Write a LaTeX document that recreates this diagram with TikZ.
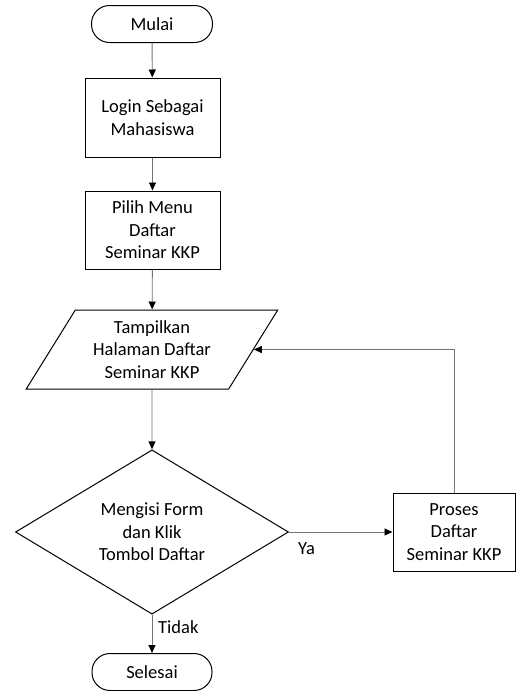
\documentclass[tikz,border=0pt]{standalone}
\usepackage{fontspec}
\setmainfont{Carlito}
\usetikzlibrary{shapes.geometric,arrows.meta}
\begin{document}
\begin{tikzpicture}[x=1pt,y=-1pt,
  every node/.style={font=\fontsize{18.5}{22.5}\selectfont},
  box/.style={draw=black,line width=1pt,align=center,inner sep=0pt},
  term/.style={box,rounded corners=18pt},
  conn/.style={draw=black!55,line width=0.9pt,-{Triangle[length=8pt,width=7pt,color=black,fill=black]}},
  plainconn/.style={draw=black!55,line width=0.9pt}]
\useasboundingbox (0,0) rectangle (517,691);
\node[term,minimum width=121pt,minimum height=37pt] (mulai) at (152,24) {Mulai};
\node[box,minimum width=135pt,minimum height=79pt] (login) at (152.5,117.5) {Login Sebagai\\Mahasiswa};
\node[box,minimum width=135pt,minimum height=78pt] (pilih) at (152.5,230) {Pilih Menu\\Daftar\\Seminar KKP};
\node[box,trapezium,trapezium left angle=57,trapezium right angle=123,trapezium stretches=true,minimum width=252pt,minimum height=79pt] (tampil) at (152,349.5) {Tampilkan\\Halaman Daftar\\Seminar KKP};
\node[box,diamond,minimum width=273pt,minimum height=157pt] (isi) at (152,532) {Mengisi Form\\dan Klik\\Tombol Daftar};
\node[box,minimum width=122pt,minimum height=78pt] (proses) at (454,532) {Proses\\Daftar\\Seminar KKP};
\node[term,minimum width=120pt,minimum height=37pt] (selesai) at (152,672) {Selesai};
\node[anchor=west,inner sep=0pt] (ya) at (298,549) {Ya};
\node[anchor=west,inner sep=0pt] (tidak) at (158,627) {Tidak};
\draw[conn] (mulai) -- (login);
\draw[conn] (login) -- (pilih);
\draw[conn] (pilih) -- (tampil);
\draw[conn] (tampil) -- (isi);
\draw[conn] (isi) -- (proses);
\draw[conn] (isi) -- (selesai);
\draw[conn] (proses.north) |- (tampil.east);
\end{tikzpicture}
\end{document}
